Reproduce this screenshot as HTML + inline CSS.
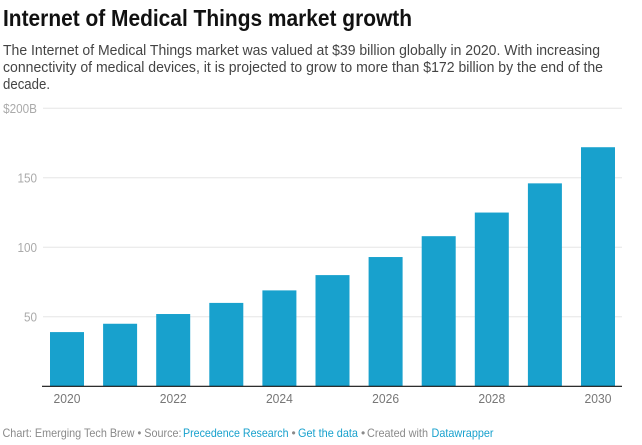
<!DOCTYPE html>
<html>
<head>
<meta charset="utf-8">
<style>
html,body{margin:0;padding:0;background:#fff;width:642px;height:445px;overflow:hidden}
svg{display:block;font-family:"Liberation Sans",sans-serif}
</style>
</head>
<body>
<svg id="chart" width="642" height="445" viewBox="0 0 642 445">
<text x="3" y="26" font-size="23" font-weight="700" fill="#111" textLength="409" lengthAdjust="spacingAndGlyphs">Internet of Medical Things market growth</text>
<g font-size="15" fill="#444">
<text x="3" y="55" textLength="597" lengthAdjust="spacingAndGlyphs">The Internet of Medical Things market was valued at $39 billion globally in 2020. With increasing</text>
<text x="3" y="72" textLength="600" lengthAdjust="spacingAndGlyphs">connectivity of medical devices, it is projected to grow to more than $172 billion by the end of the</text>
<text x="3" y="89" textLength="47" lengthAdjust="spacingAndGlyphs">decade.</text>
</g>
<g id="grid"></g>
<g id="bars"></g>
<g id="xlabels"></g>
<line x1="42" x2="622" y1="386.3" y2="386.3" stroke="#111" stroke-width="1.2"></line>
<g font-size="12" fill="#8a8a8a">
<text x="2.5" y="437" textLength="179" lengthAdjust="spacingAndGlyphs">Chart: Emerging Tech Brew • Source:</text>
<text x="183" y="437" textLength="105.5" lengthAdjust="spacingAndGlyphs" fill="#18a1cd">Precedence Research</text>
<text x="291.5" y="437">•</text>
<text x="298" y="437" textLength="60" lengthAdjust="spacingAndGlyphs" fill="#18a1cd">Get the data</text>
<text x="361" y="437">•</text>
<text x="367" y="437" textLength="61" lengthAdjust="spacingAndGlyphs">Created with</text>
<text x="431.5" y="437" textLength="62" lengthAdjust="spacingAndGlyphs" fill="#18a1cd">Datawrapper</text>
</g>
</svg>
<script>
const years = [2020, 2021, 2022, 2023, 2024, 2025, 2026, 2027, 2028, 2029, 2030];
const marketValues = [39, 45, 52, 60, 69, 80, 93, 108, 125, 146, 172];
const yTicks = [50, 100, 150, 200];
const yTickLabels = ["50", "100", "150", "$200B"];
const xTickLabels = ["2020", "2022", "2024", "2026", "2028", "2030"];

const NS = "http://www.w3.org/2000/svg";
const yDomainMax = 200;
const plotBottom = 386.3;
const plotTop = 108.3;
const plotLeft = 43;
const plotRight = 622;
const firstBarLeft = 50;
const lastBarLeft = 581;
const barWidth = 34;

function yScale(v) {
  return plotBottom - (v / yDomainMax) * (plotBottom - plotTop);
}
function xScale(year) {
  const a = years[0];
  const b = years[years.length - 1];
  return firstBarLeft + ((year - a) / (b - a)) * (lastBarLeft - firstBarLeft);
}
function make(tag, attrs, parent, text) {
  const el = document.createElementNS(NS, tag);
  Object.keys(attrs).forEach(function (k) { el.setAttribute(k, attrs[k]); });
  if (text !== undefined) el.textContent = text;
  parent.appendChild(el);
  return el;
}
function condense(el, factor) {
  el.setAttribute("textLength", el.getComputedTextLength() * factor);
  el.setAttribute("lengthAdjust", "spacingAndGlyphs");
}

const gridGroup = document.getElementById("grid");


yTicks.forEach(function (t, i) {
  const y = yScale(t);
  const line = make("line", { x1: plotLeft, x2: plotRight, y1: y, y2: y, stroke: "#e6e6e6", "stroke-width": 1 }, gridGroup);
  
  
  const label = make("text", { x: 37, y: y + 4.5, "text-anchor": "end", "font-size": 13, fill: "#aaaaaa" }, gridGroup, yTickLabels[i]);
  condense(label, 0.9);
  
  
});

const barGroup = document.getElementById("bars");


marketValues.forEach(function (v, i) {
  const y = yScale(v);
  const bar = make("rect", { x: xScale(years[i]), y: y, width: barWidth, height: plotBottom - y, fill: "#18a1cd" }, barGroup);
  
  
});

const xGroup = document.getElementById("xlabels");


xTickLabels.forEach(function (t) {
  const label = make("text", { x: xScale(Number(t)) + barWidth / 2, y: 403, "text-anchor": "middle", "font-size": 13, fill: "#777777" }, xGroup, t);
  condense(label, 0.93);
  
  
});
</script>
</body>
</html>
